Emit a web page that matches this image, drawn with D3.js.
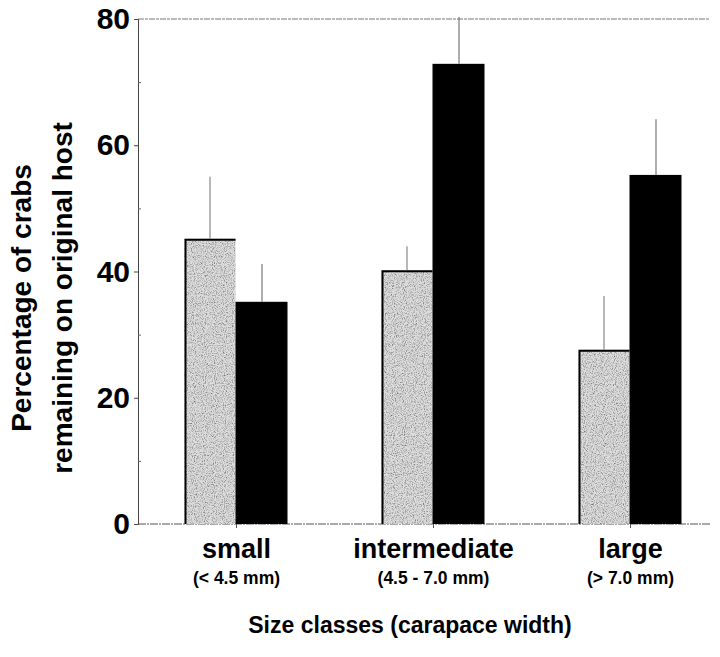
<!DOCTYPE html>
<html>
<head>
<meta charset="utf-8">
<script src="https://cdn.jsdelivr.net/npm/d3@7"></script>
<style>
  body { margin: 0; background: #fff; }
  text { font-family: "Liberation Sans", Arial, sans-serif; font-weight: bold; }
</style>
</head>
<body>
<div id="chart"></div>
<script>
// data
const sizeClasses = ["small", "intermediate", "large"];
const sizeRanges = ["(< 4.5 mm)", "(4.5 - 7.0 mm)", "(> 7.0 mm)"];
const greyValues = [45.2, 40.2, 27.6];
const greyErrors = [9.8, 3.8, 8.5];
const blackValues = [35.2, 72.9, 55.3];
const blackErrors = [6.0, 7.4, 8.8];
const yTicks = [0, 20, 40, 60, 80];

const width = 720, height = 657;
const margin = { left: 138, right: 10, top: 19, bottom: 133 };
const plotW = width - margin.left - margin.right;
const plotH = height - margin.top - margin.bottom;
const barW = 51;

const svg = d3.select("#chart").append("svg")
    .attr("width", width)
    .attr("height", height);

// stipple texture for the grey bars
const defs = svg.append("defs");
const f = defs.append("filter").attr("id", "stipple")
    .attr("x", 0).attr("y", 0).attr("width", 1).attr("height", 1);
f.append("feTurbulence").attr("type", "fractalNoise")
    .attr("baseFrequency", 0.9).attr("numOctaves", 2).attr("seed", 3).attr("result", "noise");
f.append("feColorMatrix").attr("in", "noise").attr("type", "matrix")
    .attr("values", "0 0 0 0 0  0 0 0 0 0  0 0 0 0 0  -1.8 0 0 0 1.05")
    .attr("result", "dots");
f.append("feFlood").attr("flood-color", "#dedede").attr("result", "base");
f.append("feComposite").attr("in", "dots").attr("in2", "base").attr("operator", "over").attr("result", "mix");
f.append("feComposite").attr("in", "mix").attr("in2", "SourceGraphic").attr("operator", "in");

const x = d3.scaleBand()
    .domain(sizeClasses)
    .range([margin.left, margin.left + 197 * 3])
    .paddingInner(0).paddingOuter(0);

const y = d3.scaleLinear()
    .domain([0, 80])
    .range([margin.top + plotH, margin.top]);

const g = svg.append("g");

// top and bottom dotted frame lines
g.append("line")
    .attr("x1", margin.left).attr("x2", margin.left + plotW)
    .attr("y1", y(80)).attr("y2", y(80))
    .attr("stroke", "#777").attr("stroke-width", 1).attr("stroke-dasharray", "6,1,3,1");
g.append("line")
    .attr("x1", margin.left).attr("x2", margin.left + plotW)
    .attr("y1", y(0)).attr("y2", y(0))
    .attr("stroke", "#555").attr("stroke-width", 1).attr("stroke-dasharray", "8,1,2,1");

// y axis
svg.append("g")
    .attr("transform", `translate(${margin.left},0)`)
    .call(d3.axisLeft(y).tickValues(yTicks).tickSize(4).tickPadding(4))
    .call(a => a.select(".domain").attr("stroke", "#444"))
    .call(a => a.selectAll(".tick line").attr("stroke", "#444"))
    .call(a => a.selectAll("text").attr("font-size", 30).attr("fill", "#000")
        .attr("font-family", "Liberation Sans, Arial, sans-serif").attr("font-weight", "bold"));

// minor ticks
svg.append("g")
    .attr("transform", `translate(${margin.left},0)`)
    .call(d3.axisRight(y).tickValues([10, 30, 50, 70]).tickSize(3).tickFormat(""))
    .call(a => a.select(".domain").remove())
    .call(a => a.selectAll(".tick line").attr("stroke", "#666"));

// x ticks at group centres
svg.append("g")
    .attr("transform", `translate(0,${y(0)})`)
    .call(d3.axisBottom(x).tickSize(4).tickFormat(""))
    .call(a => a.select(".domain").remove())
    .call(a => a.selectAll(".tick line").attr("stroke", "#555"));

// bars
sizeClasses.forEach((c, i) => {
    const cx = x(c) + x.bandwidth() / 2 - 1;

    // grey bar
    g.append("rect")
        .attr("x", cx - barW).attr("y", y(greyValues[i]))
        .attr("width", barW).attr("height", y(0) - y(greyValues[i]))
        .attr("fill", "#000").attr("filter", "url(#stipple)");
    g.append("path")
        .attr("d", `M${cx - barW + 1},${y(0)}V${y(greyValues[i]) + 1}H${cx}`)
        .attr("fill", "none").attr("stroke", "#000").attr("stroke-width", 2);

    // black bar
    g.append("rect")
        .attr("x", cx).attr("y", y(blackValues[i]))
        .attr("width", barW + 1).attr("height", y(0) - y(blackValues[i]))
        .attr("fill", "#000");

    // error bars
    g.append("line")
        .attr("x1", cx - barW / 2).attr("x2", cx - barW / 2)
        .attr("y1", y(greyValues[i])).attr("y2", y(greyValues[i] + greyErrors[i]))
        .attr("stroke", "#888").attr("stroke-width", 1.2);
    g.append("line")
        .attr("x1", cx + barW / 2 + 1).attr("x2", cx + barW / 2 + 1)
        .attr("y1", y(blackValues[i])).attr("y2", y(blackValues[i] + blackErrors[i]))
        .attr("stroke", "#777").attr("stroke-width", 1.2);

    // category labels
    svg.append("text")
        .attr("x", cx + 1).attr("y", 558)
        .attr("text-anchor", "middle").attr("font-size", 27)
        .text(c);
    svg.append("text")
        .attr("x", cx + 1).attr("y", 584)
        .attr("text-anchor", "middle").attr("font-size", 17.5)
        .text(sizeRanges[i]);
});

// axis titles
svg.append("text")
    .attr("x", 410).attr("y", 633)
    .attr("text-anchor", "middle").attr("font-size", 23)
    .text("Size classes (carapace width)");

const yt = svg.append("text")
    .attr("transform", "translate(0,298) rotate(-90)")
    .attr("text-anchor", "middle").attr("font-size", 28);
yt.append("tspan").attr("x", 0).attr("y", 31).text("Percentage of crabs");
yt.append("tspan").attr("x", 0).attr("y", 72).text("remaining on original host");
</script>
</body>
</html>
